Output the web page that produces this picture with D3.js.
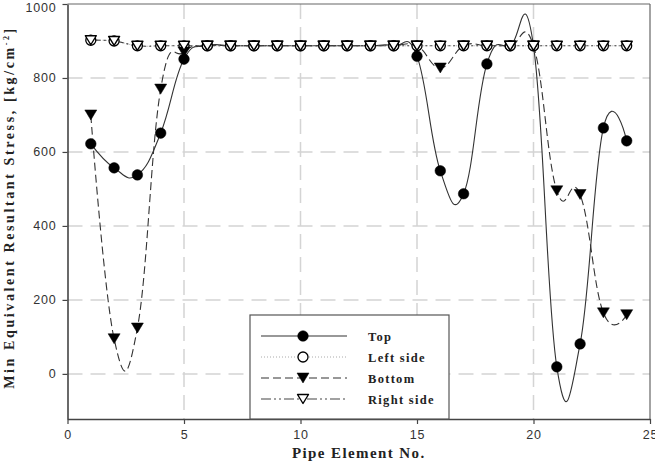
<!DOCTYPE html>
<html>
<head>
<meta charset="utf-8">
<script src="https://cdn.jsdelivr.net/npm/d3@7/dist/d3.min.js"></script>
<style>
  html, body { margin: 0; padding: 0; background: #fff; }
  svg { display: block; }
</style>
</head>
<body>
<div id="chart"></div>
<script>
// Données (éléments de conduite 1 à 24)
const elements = d3.range(1, 25)
const topVals = [622, 557, 538, 651, 851, 887, 887, 887, 887, 887, 887, 887, 887, 887, 859, 549, 487, 838, 887, 887, 19, 81, 665, 630]
const leftVals = [902, 900, 887, 887, 887, 887, 887, 887, 887, 887, 887, 887, 887, 887, 887, 887, 887, 887, 887, 887, 887, 887, 887, 887]
const bottomVals = [700, 95, 124, 770, 870, 887, 887, 887, 887, 887, 887, 887, 887, 887, 887, 827, 887, 887, 887, 887, 495, 485, 165, 160]
const rightVals = [902, 900, 887, 887, 887, 887, 887, 887, 887, 887, 887, 887, 887, 887, 887, 887, 887, 887, 887, 887, 887, 887, 887, 887]
const xTicks = [0, 5, 10, 15, 20, 25]
const yTicks = [0, 200, 400, 600, 800, 1000]

const W = 655, H = 466
const margin = { top: 4, right: 5, bottom: 47, left: 67.5 }

const svg = d3.select("#chart").append("svg")
  .attr("width", W).attr("height", H)

const x = d3.scaleLinear().domain([0, 25]).range([margin.left, W - margin.right])
const y = d3.scaleLinear().domain([-122, 1000]).range([H - margin.bottom, margin.top])

// --- Grille tiretée ---
svg.append("g").selectAll("line.gy")
  .data(yTicks.filter(d => d < 1000))
  .join("line")
  .attr("x1", x(0)).attr("x2", x(25))
  .attr("y1", d => y(d)).attr("y2", d => y(d))
  .attr("stroke", "#d4d4d4").attr("stroke-width", 1.5)
  .attr("stroke-dasharray", "15,8")

svg.append("g").selectAll("line.gx")
  .data(xTicks.filter(d => d > 0 && d < 25))
  .join("line")
  .attr("x1", d => x(d)).attr("x2", d => x(d))
  .attr("y1", y(1000)).attr("y2", y(-122))
  .attr("stroke", "#d4d4d4").attr("stroke-width", 1.5)
  .attr("stroke-dasharray", "15,8")

// --- Cadre ---
svg.append("line")
  .attr("x1", x(0)).attr("x2", x(25)).attr("y1", y(1000)).attr("y2", y(1000))
  .attr("stroke", "#666").attr("stroke-width", 1.2)
svg.append("line")
  .attr("x1", x(25)).attr("x2", x(25)).attr("y1", y(1000)).attr("y2", y(-122))
  .attr("stroke", "#666").attr("stroke-width", 1.2)

const tickFont = "'Liberation Sans', Arial, sans-serif"

const yAxis = svg.append("g")
  .attr("transform", `translate(${x(0)},0)`)
  .call(d3.axisLeft(y).tickValues(yTicks).tickFormat(d3.format("d"))
    .tickSize(5).tickPadding(6).tickSizeOuter(0))
yAxis.select(".domain").attr("stroke", "#444").attr("stroke-width", 1.6)
yAxis.selectAll(".tick line").attr("stroke", "#444").attr("stroke-width", 1.2)
yAxis.selectAll(".tick text")
  .attr("font-family", tickFont).attr("font-size", 12.5).attr("fill", "#333")
  .attr("letter-spacing", 0.8)
  .attr("y", d => d === 1000 ? 3 : 0)

const xAxis = svg.append("g")
  .attr("transform", `translate(0,${y(-122)})`)
  .call(d3.axisBottom(x).tickValues(xTicks).tickSize(5).tickPadding(6).tickSizeOuter(0))
xAxis.select(".domain").attr("stroke", "#444").attr("stroke-width", 1.6)
xAxis.selectAll(".tick line").attr("stroke", "#444").attr("stroke-width", 1.2)
xAxis.selectAll(".tick text")
  .attr("font-family", tickFont).attr("font-size", 12.5).attr("fill", "#333")
  .attr("letter-spacing", 0.8)

// --- Séries ---
// Spline type SigmaPlot : cardinale avec un peu de dépassement
const curve = d3.curveCardinal.tension(-0.3)

const series = [
  { name: "Top", values: topVals, stroke: "#333", width: 1.1, dash: null, marker: "circle", fill: "#000" },
  { name: "Left side", values: leftVals, stroke: "#aaa", width: 1, dash: "1,2", marker: "circle", fill: "#fff" },
  { name: "Bottom", values: bottomVals, stroke: "#333", width: 1.1, dash: "8,4", marker: "tri", fill: "#000" },
  { name: "Right side", values: rightVals, stroke: "#444", width: 1.1, dash: "10,3,2,3,2,3", marker: "tri", fill: "#fff" },
]

const line = d3.line().x(d => x(d[0])).y(d => y(d[1])).curve(curve)

series.forEach(s => {
  svg.append("path")
    .datum(elements.map((e, i) => [e, s.values[i]]))
    .attr("d", line)
    .attr("fill", "none")
    .attr("stroke", s.stroke)
    .attr("stroke-width", s.width)
    .attr("stroke-dasharray", s.dash)
})

const triPath = "M-6,-5L6,-5L0,5Z"
const triOpen = "M-5.5,-4.5L5.5,-4.5L0,4.5Z"

function drawMarker(sel, s) {
  if (s.marker === "circle") {
    sel.append("circle")
      .attr("r", s.fill === "#000" ? 5.3 : 5)
      .attr("fill", s.fill)
      .attr("stroke", "#000").attr("stroke-width", s.fill === "#000" ? 0.5 : 1.3)
  } else {
    sel.append("path")
      .attr("d", s.fill === "#000" ? triPath : triOpen)
      .attr("fill", s.fill)
      .attr("stroke", "#000").attr("stroke-width", s.fill === "#000" ? 0.5 : 1.4)
      .attr("stroke-linejoin", "round")
  }
}

series.forEach(s => {
  const g = svg.append("g").selectAll("g")
    .data(elements.map((e, i) => [e, s.values[i]]))
    .join("g")
    .attr("transform", d => `translate(${x(d[0])},${y(d[1])})`)
  drawMarker(g, s)
})

// --- Légende ---
const lg = svg.append("g")
lg.append("rect")
  .attr("x", 250).attr("y", 315).attr("width", 199).attr("height", y(-122) - 315)
  .attr("fill", "#fff").attr("stroke", "#555").attr("stroke-width", 1.2)

const legendY = [336, 357, 378, 399]
series.forEach((s, i) => {
  const row = lg.append("g").attr("transform", `translate(0,${legendY[i]})`)
  row.append("line")
    .attr("x1", 261).attr("x2", 347)
    .attr("stroke", s.stroke).attr("stroke-width", s.width)
    .attr("stroke-dasharray", s.dash)
  const m = row.append("g").attr("transform", "translate(303,0)")
  drawMarker(m, s)
  row.append("text")
    .attr("x", 368).attr("y", 4.5)
    .attr("font-family", "'Liberation Serif', 'Times New Roman', serif")
    .attr("font-weight", "bold").attr("font-size", 12.5)
    .attr("letter-spacing", 1.3).attr("fill", "#222")
    .text(s.name)
})

// --- Titres d'axes ---
svg.append("text")
  .attr("x", x(12.5)).attr("y", 458)
  .attr("text-anchor", "middle")
  .attr("font-family", "'Liberation Serif', 'Times New Roman', serif")
  .attr("font-weight", "bold").attr("font-size", 15)
  .attr("letter-spacing", 1.4).attr("fill", "#222")
  .text("Pipe Element No.")

const yl = svg.append("text")
  .attr("transform", `translate(14,${y(450)}) rotate(-90)`)
  .attr("text-anchor", "middle")
  .attr("font-family", "'Liberation Serif', 'Times New Roman', serif")
  .attr("font-weight", "bold").attr("font-size", 14)
  .attr("letter-spacing", 2.6).attr("fill", "#222")
yl.append("tspan").text("Min Equivalent Resultant Stress, [kg/cm")
yl.append("tspan").attr("font-size", 8).attr("dy", -5).text("-2")
yl.append("tspan").attr("dy", 5).text("]")
</script>
</body>
</html>
